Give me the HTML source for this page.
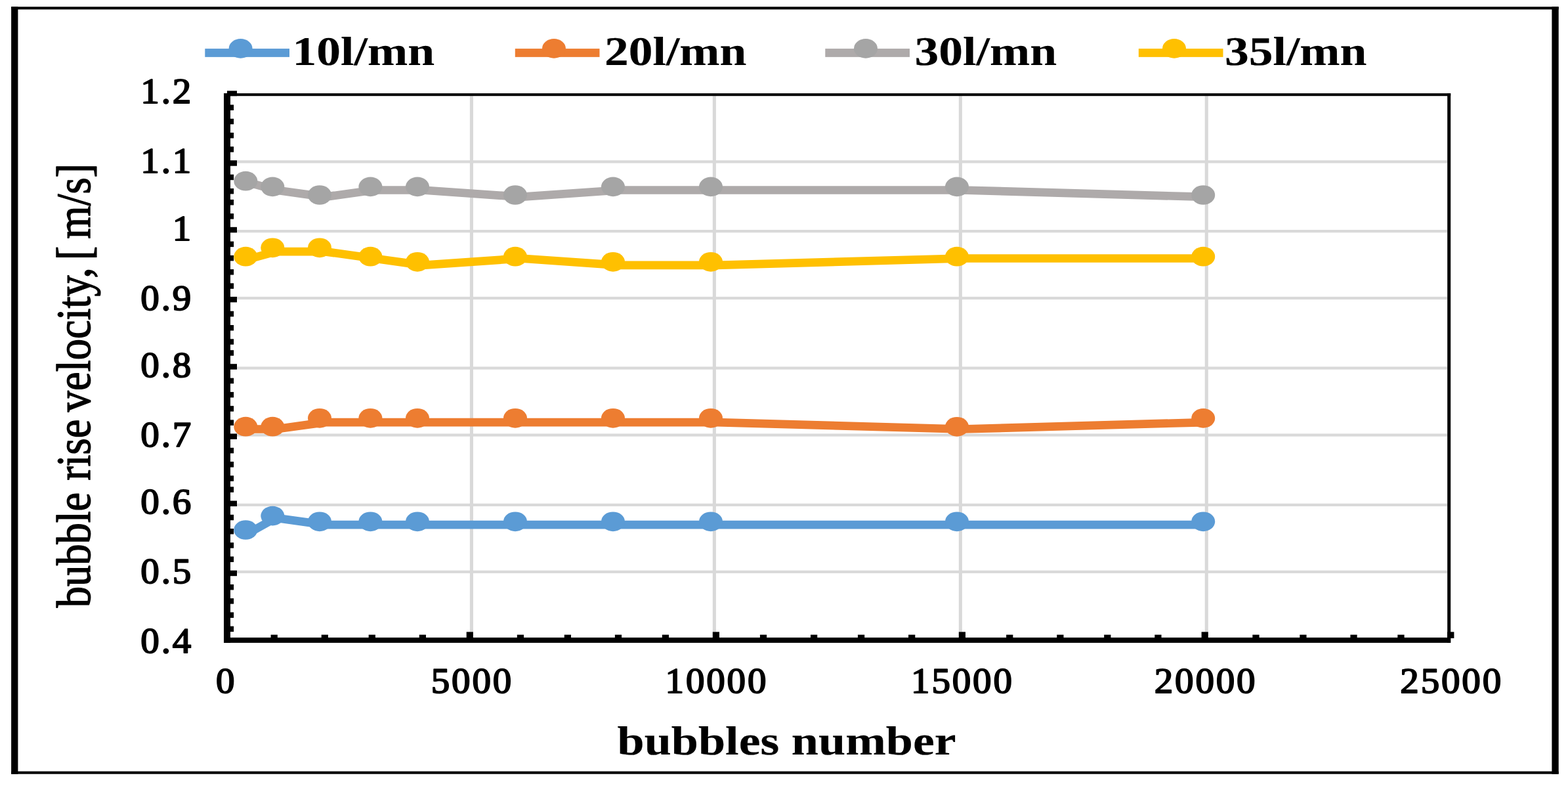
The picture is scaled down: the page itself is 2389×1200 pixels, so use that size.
<!DOCTYPE html>
<html lang="en">
<head>
<meta charset="utf-8">
<title>Bubble rise velocity vs bubbles number</title>
<style>
html,body{margin:0;padding:0;background:#fff;}
body{width:2389px;height:1200px;overflow:hidden;}
svg{display:block;}
svg text{font-family:"Liberation Serif","DejaVu Serif",serif;fill:#000;}
</style>
</head>
<body>
<svg width="2389" height="1200" viewBox="0 0 2389 1200" shape-rendering="geometricPrecision" text-rendering="geometricPrecision">
<rect x="0" y="0" width="2389" height="1200" fill="#fff"/>
<rect x="17.10" y="10.30" width="2357.60" height="4.10" fill="#000"/>
<rect x="17.10" y="1174.60" width="2357.60" height="4.10" fill="#000"/>
<rect x="17.10" y="10.30" width="10.30" height="1168.40" fill="#000"/>
<rect x="2364.40" y="10.30" width="10.30" height="1168.40" fill="#000"/>
<g id="grid">
<rect x="361.00" y="244.20" width="1844.20" height="4.24" fill="#d9d9d9"/>
<rect x="361.00" y="350.00" width="1844.20" height="4.24" fill="#d9d9d9"/>
<rect x="361.00" y="451.90" width="1844.20" height="4.24" fill="#d9d9d9"/>
<rect x="361.00" y="558.40" width="1844.20" height="4.24" fill="#d9d9d9"/>
<rect x="361.00" y="660.40" width="1844.20" height="4.24" fill="#d9d9d9"/>
<rect x="361.00" y="766.80" width="1844.20" height="4.24" fill="#d9d9d9"/>
<rect x="361.00" y="868.70" width="1844.20" height="4.24" fill="#d9d9d9"/>
<rect x="715.90" y="146.20" width="5.10" height="816.10" fill="#d9d9d9"/>
<rect x="1085.80" y="146.20" width="5.10" height="816.10" fill="#d9d9d9"/>
<rect x="1460.80" y="146.20" width="5.10" height="816.10" fill="#d9d9d9"/>
<rect x="1835.70" y="146.20" width="5.10" height="816.10" fill="#d9d9d9"/>
</g>
<g id="axes">
<rect x="341.00" y="142.10" width="10.00" height="836.80" fill="#000"/>
<rect x="341.00" y="142.10" width="1869.20" height="4.10" fill="#000"/>
<rect x="2205.20" y="142.10" width="5.00" height="836.80" fill="#000"/>
<rect x="341.00" y="970.90" width="1869.20" height="8.00" fill="#000"/>
<rect x="346.00" y="138.30" width="15.00" height="7.90" fill="#000"/>
<rect x="346.00" y="244.20" width="15.00" height="8.49" fill="#000"/>
<rect x="346.00" y="345.80" width="15.00" height="8.49" fill="#000"/>
<rect x="346.00" y="451.90" width="15.00" height="8.49" fill="#000"/>
<rect x="346.00" y="554.20" width="15.00" height="8.49" fill="#000"/>
<rect x="346.00" y="660.40" width="15.00" height="8.49" fill="#000"/>
<rect x="346.00" y="762.60" width="15.00" height="8.49" fill="#000"/>
<rect x="346.00" y="868.70" width="15.00" height="8.49" fill="#000"/>
<rect x="350.00" y="159.53" width="6.10" height="8.49" fill="#000"/>
<rect x="350.00" y="180.77" width="6.10" height="8.49" fill="#000"/>
<rect x="350.00" y="202.00" width="6.10" height="8.49" fill="#000"/>
<rect x="350.00" y="223.23" width="6.10" height="8.49" fill="#000"/>
<rect x="350.00" y="265.70" width="6.10" height="8.49" fill="#000"/>
<rect x="350.00" y="286.93" width="6.10" height="8.49" fill="#000"/>
<rect x="350.00" y="303.91" width="6.10" height="8.49" fill="#000"/>
<rect x="350.00" y="325.15" width="6.10" height="8.49" fill="#000"/>
<rect x="350.00" y="367.61" width="6.10" height="8.49" fill="#000"/>
<rect x="350.00" y="388.84" width="6.10" height="8.49" fill="#000"/>
<rect x="350.00" y="410.08" width="6.10" height="8.49" fill="#000"/>
<rect x="350.00" y="431.31" width="6.10" height="8.49" fill="#000"/>
<rect x="350.00" y="473.77" width="6.10" height="8.49" fill="#000"/>
<rect x="350.00" y="495.01" width="6.10" height="8.49" fill="#000"/>
<rect x="350.00" y="516.24" width="6.10" height="8.49" fill="#000"/>
<rect x="350.00" y="533.22" width="6.10" height="8.49" fill="#000"/>
<rect x="350.00" y="575.69" width="6.10" height="8.49" fill="#000"/>
<rect x="350.00" y="596.92" width="6.10" height="8.49" fill="#000"/>
<rect x="350.00" y="618.15" width="6.10" height="8.49" fill="#000"/>
<rect x="350.00" y="639.39" width="6.10" height="8.49" fill="#000"/>
<rect x="350.00" y="681.85" width="6.10" height="8.49" fill="#000"/>
<rect x="350.00" y="703.08" width="6.10" height="8.49" fill="#000"/>
<rect x="350.00" y="724.32" width="6.10" height="8.49" fill="#000"/>
<rect x="350.00" y="741.30" width="6.10" height="8.49" fill="#000"/>
<rect x="350.00" y="783.77" width="6.10" height="8.49" fill="#000"/>
<rect x="350.00" y="805.00" width="6.10" height="8.49" fill="#000"/>
<rect x="350.00" y="826.23" width="6.10" height="8.49" fill="#000"/>
<rect x="350.00" y="847.47" width="6.10" height="8.49" fill="#000"/>
<rect x="350.00" y="889.93" width="6.10" height="8.49" fill="#000"/>
<rect x="350.00" y="911.16" width="6.10" height="8.49" fill="#000"/>
<rect x="350.00" y="932.40" width="6.10" height="8.49" fill="#000"/>
<rect x="350.00" y="953.63" width="6.10" height="8.49" fill="#000"/>
<rect x="710.70" y="962.30" width="10.20" height="9.60" fill="#000"/>
<rect x="1085.80" y="962.30" width="10.20" height="9.60" fill="#000"/>
<rect x="1460.80" y="962.30" width="10.20" height="9.60" fill="#000"/>
<rect x="1830.60" y="962.30" width="10.20" height="9.60" fill="#000"/>
<rect x="2205.00" y="962.30" width="10.40" height="9.60" fill="#000"/>
<rect x="412.59" y="966.60" width="10.28" height="5.30" fill="#000"/>
<rect x="489.69" y="966.60" width="10.28" height="5.30" fill="#000"/>
<rect x="561.65" y="966.60" width="10.28" height="5.30" fill="#000"/>
<rect x="638.75" y="966.60" width="10.28" height="5.30" fill="#000"/>
<rect x="787.81" y="966.60" width="10.28" height="5.30" fill="#000"/>
<rect x="859.77" y="966.60" width="10.28" height="5.30" fill="#000"/>
<rect x="936.87" y="966.60" width="10.28" height="5.30" fill="#000"/>
<rect x="1008.83" y="966.60" width="10.28" height="5.30" fill="#000"/>
<rect x="1157.89" y="966.60" width="10.28" height="5.30" fill="#000"/>
<rect x="1234.99" y="966.60" width="10.28" height="5.30" fill="#000"/>
<rect x="1306.95" y="966.60" width="10.28" height="5.30" fill="#000"/>
<rect x="1384.05" y="966.60" width="10.28" height="5.30" fill="#000"/>
<rect x="1533.11" y="966.60" width="10.28" height="5.30" fill="#000"/>
<rect x="1610.21" y="966.60" width="10.28" height="5.30" fill="#000"/>
<rect x="1682.17" y="966.60" width="10.28" height="5.30" fill="#000"/>
<rect x="1759.27" y="966.60" width="10.28" height="5.30" fill="#000"/>
<rect x="1908.33" y="966.60" width="10.28" height="5.30" fill="#000"/>
<rect x="1980.29" y="966.60" width="10.28" height="5.30" fill="#000"/>
<rect x="2057.39" y="966.60" width="10.28" height="5.30" fill="#000"/>
<rect x="2129.35" y="966.60" width="10.28" height="5.30" fill="#000"/>
</g>
<g id="s-blue">
<polyline points="382.8,809.5 420.1,788.7 494.7,799.1 569.4,799.1 644.0,799.1 793.2,799.1 942.5,799.1 1091.7,799.1 1464.8,799.1 1837.9,799.1" fill="none" stroke="#5B9BD5" stroke-width="12.7" stroke-linejoin="round" stroke-linecap="butt"/>
<ellipse cx="374.3" cy="807.0" rx="18.0" ry="14.85" fill="#5B9BD5"/>
<ellipse cx="415.3" cy="785.6" rx="18.0" ry="14.85" fill="#5B9BD5"/>
<ellipse cx="487.0" cy="794.3" rx="18.0" ry="14.85" fill="#5B9BD5"/>
<ellipse cx="564.4" cy="794.3" rx="18.0" ry="14.85" fill="#5B9BD5"/>
<ellipse cx="636.0" cy="794.3" rx="18.0" ry="14.85" fill="#5B9BD5"/>
<ellipse cx="785.0" cy="794.3" rx="18.0" ry="14.85" fill="#5B9BD5"/>
<ellipse cx="934.0" cy="794.3" rx="18.0" ry="14.85" fill="#5B9BD5"/>
<ellipse cx="1083.0" cy="794.3" rx="18.0" ry="14.85" fill="#5B9BD5"/>
<ellipse cx="1458.0" cy="794.3" rx="18.0" ry="14.85" fill="#5B9BD5"/>
<ellipse cx="1833.2" cy="794.3" rx="18.0" ry="14.85" fill="#5B9BD5"/>
</g>
<g id="s-orange">
<polyline points="382.8,653.5 420.1,653.5 494.7,643.1 569.4,643.1 644.0,643.1 793.2,643.1 942.5,643.1 1091.7,643.1 1464.8,653.5 1837.9,643.1" fill="none" stroke="#ED7D31" stroke-width="12.7" stroke-linejoin="round" stroke-linecap="butt"/>
<ellipse cx="374.3" cy="649.7" rx="18.0" ry="14.85" fill="#ED7D31"/>
<ellipse cx="415.3" cy="649.7" rx="18.0" ry="14.85" fill="#ED7D31"/>
<ellipse cx="487.0" cy="636.8" rx="18.0" ry="14.85" fill="#ED7D31"/>
<ellipse cx="564.4" cy="636.8" rx="18.0" ry="14.85" fill="#ED7D31"/>
<ellipse cx="636.0" cy="636.8" rx="18.0" ry="14.85" fill="#ED7D31"/>
<ellipse cx="785.0" cy="636.8" rx="18.0" ry="14.85" fill="#ED7D31"/>
<ellipse cx="934.0" cy="636.8" rx="18.0" ry="14.85" fill="#ED7D31"/>
<ellipse cx="1083.0" cy="636.8" rx="18.0" ry="14.85" fill="#ED7D31"/>
<ellipse cx="1458.0" cy="649.8" rx="18.0" ry="14.85" fill="#ED7D31"/>
<ellipse cx="1833.2" cy="636.9" rx="18.0" ry="14.85" fill="#ED7D31"/>
</g>
<g id="s-grey">
<polyline points="382.8,279.1 420.1,289.5 494.7,299.9 569.4,289.5 644.0,289.5 793.2,299.9 942.5,289.5 1091.7,289.5 1464.8,289.5 1837.9,299.9" fill="none" stroke="#AEAAAA" stroke-width="12.7" stroke-linejoin="round" stroke-linecap="butt"/>
<ellipse cx="374.3" cy="275.7" rx="18.0" ry="14.85" fill="#A5A5A5"/>
<ellipse cx="415.3" cy="284.4" rx="18.0" ry="14.85" fill="#A5A5A5"/>
<ellipse cx="487.0" cy="297.0" rx="18.0" ry="14.85" fill="#A5A5A5"/>
<ellipse cx="564.4" cy="284.4" rx="18.0" ry="14.85" fill="#A5A5A5"/>
<ellipse cx="636.0" cy="284.4" rx="18.0" ry="14.85" fill="#A5A5A5"/>
<ellipse cx="785.0" cy="297.0" rx="18.0" ry="14.85" fill="#A5A5A5"/>
<ellipse cx="934.0" cy="284.4" rx="18.0" ry="14.85" fill="#A5A5A5"/>
<ellipse cx="1083.0" cy="284.4" rx="18.0" ry="14.85" fill="#A5A5A5"/>
<ellipse cx="1458.0" cy="284.4" rx="18.0" ry="14.85" fill="#A5A5A5"/>
<ellipse cx="1833.2" cy="297.0" rx="18.0" ry="14.85" fill="#A5A5A5"/>
</g>
<g id="s-yellow">
<polyline points="382.8,393.5 420.1,383.1 494.7,383.1 569.4,393.5 644.0,403.9 793.2,393.5 942.5,403.9 1091.7,403.9 1464.8,393.5 1837.9,393.5" fill="none" stroke="#FFC000" stroke-width="12.7" stroke-linejoin="round" stroke-linecap="butt"/>
<ellipse cx="374.3" cy="390.7" rx="18.0" ry="14.85" fill="#FFC000"/>
<ellipse cx="415.3" cy="377.3" rx="18.0" ry="14.85" fill="#FFC000"/>
<ellipse cx="487.0" cy="377.3" rx="18.0" ry="14.85" fill="#FFC000"/>
<ellipse cx="564.4" cy="390.7" rx="18.0" ry="14.85" fill="#FFC000"/>
<ellipse cx="636.0" cy="398.8" rx="18.0" ry="14.85" fill="#FFC000"/>
<ellipse cx="785.0" cy="390.7" rx="18.0" ry="14.85" fill="#FFC000"/>
<ellipse cx="934.0" cy="398.8" rx="18.0" ry="14.85" fill="#FFC000"/>
<ellipse cx="1083.0" cy="398.8" rx="18.0" ry="14.85" fill="#FFC000"/>
<ellipse cx="1458.0" cy="390.7" rx="18.0" ry="14.85" fill="#FFC000"/>
<ellipse cx="1833.2" cy="390.7" rx="18.0" ry="14.85" fill="#FFC000"/>
</g>
<g id="legend">
<rect x="312.30" y="74.10" width="128.70" height="12.75" fill="#5B9BD5"/>
<ellipse cx="366.6" cy="73.9" rx="18.0" ry="14.85" fill="#5B9BD5"/>
<text transform="matrix(0.73500 0 0 0.62000 445.60 98.80)" font-size="100" font-weight="bold" text-anchor="start" stroke="#000" stroke-width="0.3" stroke-linejoin="round">10l/mn</text>
<rect x="784.80" y="74.10" width="128.70" height="12.75" fill="#ED7D31"/>
<ellipse cx="844.0" cy="73.9" rx="18.0" ry="14.85" fill="#ED7D31"/>
<text transform="matrix(0.73500 0 0 0.62000 921.00 98.80)" font-size="100" font-weight="bold" text-anchor="start" stroke="#000" stroke-width="0.3" stroke-linejoin="round">20l/mn</text>
<rect x="1257.30" y="74.10" width="128.70" height="12.75" fill="#AEAAAA"/>
<ellipse cx="1319.0" cy="73.9" rx="18.0" ry="14.85" fill="#A5A5A5"/>
<text transform="matrix(0.73500 0 0 0.62000 1393.60 98.80)" font-size="100" font-weight="bold" text-anchor="start" stroke="#000" stroke-width="0.3" stroke-linejoin="round">30l/mn</text>
<rect x="1734.80" y="74.10" width="128.70" height="12.75" fill="#FFC000"/>
<ellipse cx="1789.0" cy="73.9" rx="18.0" ry="14.85" fill="#FFC000"/>
<text transform="matrix(0.73500 0 0 0.62000 1866.00 98.80)" font-size="100" font-weight="bold" text-anchor="start" stroke="#000" stroke-width="0.3" stroke-linejoin="round">35l/mn</text>
</g>
<g id="ylabels">
<text transform="matrix(0.57000 0 0 0.54500 294.10 156.80)" font-size="100" font-weight="normal" text-anchor="end" letter-spacing="5.0" stroke="#000" stroke-width="3.5" stroke-linejoin="round">1.2</text>
<text transform="matrix(0.57000 0 0 0.54500 294.10 263.10)" font-size="100" font-weight="normal" text-anchor="end" letter-spacing="5.0" stroke="#000" stroke-width="3.5" stroke-linejoin="round">1.1</text>
<text transform="matrix(0.57000 0 0 0.54500 294.10 365.60)" font-size="100" font-weight="normal" text-anchor="end" letter-spacing="5.0" stroke="#000" stroke-width="3.5" stroke-linejoin="round">1</text>
<text transform="matrix(0.57000 0 0 0.54500 294.10 471.80)" font-size="100" font-weight="normal" text-anchor="end" letter-spacing="5.0" stroke="#000" stroke-width="3.5" stroke-linejoin="round">0.9</text>
<text transform="matrix(0.57000 0 0 0.54500 294.10 573.60)" font-size="100" font-weight="normal" text-anchor="end" letter-spacing="5.0" stroke="#000" stroke-width="3.5" stroke-linejoin="round">0.8</text>
<text transform="matrix(0.57000 0 0 0.54500 294.10 680.40)" font-size="100" font-weight="normal" text-anchor="end" letter-spacing="5.0" stroke="#000" stroke-width="3.5" stroke-linejoin="round">0.7</text>
<text transform="matrix(0.57000 0 0 0.54500 294.10 782.40)" font-size="100" font-weight="normal" text-anchor="end" letter-spacing="5.0" stroke="#000" stroke-width="3.5" stroke-linejoin="round">0.6</text>
<text transform="matrix(0.57000 0 0 0.54500 294.10 888.10)" font-size="100" font-weight="normal" text-anchor="end" letter-spacing="5.0" stroke="#000" stroke-width="3.5" stroke-linejoin="round">0.5</text>
<text transform="matrix(0.57000 0 0 0.54500 294.10 994.10)" font-size="100" font-weight="normal" text-anchor="end" letter-spacing="5.0" stroke="#000" stroke-width="3.5" stroke-linejoin="round">0.4</text>
</g>
<g id="xlabels">
<text transform="matrix(0.57000 0 0 0.54500 344.80 1054.80)" font-size="100" font-weight="normal" text-anchor="middle" letter-spacing="5.0" stroke="#000" stroke-width="3.5" stroke-linejoin="round">0</text>
<text transform="matrix(0.57000 0 0 0.54500 719.40 1054.80)" font-size="100" font-weight="normal" text-anchor="middle" letter-spacing="5.0" stroke="#000" stroke-width="3.5" stroke-linejoin="round">5000</text>
<text transform="matrix(0.57000 0 0 0.54500 1091.90 1054.80)" font-size="100" font-weight="normal" text-anchor="middle" letter-spacing="5.0" stroke="#000" stroke-width="3.5" stroke-linejoin="round">10000</text>
<text transform="matrix(0.57000 0 0 0.54500 1466.40 1054.80)" font-size="100" font-weight="normal" text-anchor="middle" letter-spacing="5.0" stroke="#000" stroke-width="3.5" stroke-linejoin="round">15000</text>
<text transform="matrix(0.57000 0 0 0.54500 1837.10 1054.80)" font-size="100" font-weight="normal" text-anchor="middle" letter-spacing="5.0" stroke="#000" stroke-width="3.5" stroke-linejoin="round">20000</text>
<text transform="matrix(0.57000 0 0 0.54500 2211.70 1054.80)" font-size="100" font-weight="normal" text-anchor="middle" letter-spacing="5.0" stroke="#000" stroke-width="3.5" stroke-linejoin="round">25000</text>
</g>
<text transform="matrix(0.74000 0 0 0.62000 940.50 1149.00)" font-size="100" font-weight="bold" text-anchor="start" stroke="#000" stroke-width="0.3" stroke-linejoin="round">bubbles number</text>
<g id="ytitle">
<text transform="matrix(0 -0.64500 0.73500 0 136.50 925.34)" font-size="100" font-weight="normal" text-anchor="start" stroke="#000" stroke-width="2.0" stroke-linejoin="round"><tspan x="0.00">bubble</tspan> <tspan x="299.96">rise</tspan> <tspan x="462.35">velocity,</tspan> <tspan x="820.48">[</tspan> <tspan x="870.87">m/s]</tspan></text>
</g>
</svg>
</body>
</html>
